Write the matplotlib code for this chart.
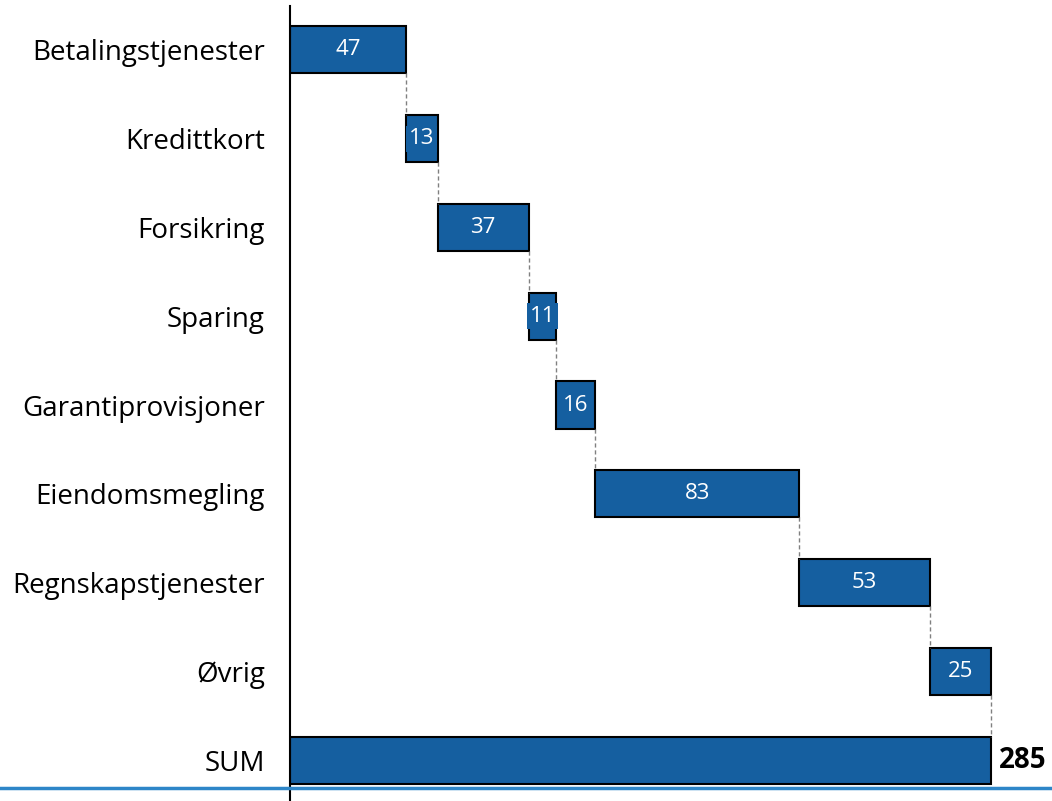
import matplotlib.pyplot as plt
from matplotlib.lines import Line2D

kategorier = ['Betalingstjenester', 'Kredittkort', 'Forsikring', 'Sparing',
              'Garantiprovisjoner', 'Eiendomsmegling', 'Regnskapstjenester',
              'Øvrig', 'SUM']
verdier = [47, 13, 37, 11, 16, 83, 53, 25]
total = sum(verdier)

plt.rcParams['font.family'] = ['Open Sans', 'DejaVu Sans']
farge = '#155fa0'

fig = plt.figure(figsize=(10.52, 8.01), dpi=100)
ax = fig.add_axes([290 / 1052, -3.4 / 801, 1 - 290 / 1052, 798.8 / 801])

start = 0
starts = []
for v in verdier:
    starts.append(start)
    start += v

h = 0.53
for i, v in enumerate(verdier):
    ax.barh(i, v, left=starts[i], height=h, color=farge, edgecolor='black', linewidth=1.5)
    ax.text(starts[i] + v / 2, i, str(v), ha='center', va='center', color='white', fontsize=16,
            bbox=dict(boxstyle='square,pad=0.12', fc=farge, ec='none'))
    # stiplet forbindelseslinje
    ax.plot([starts[i] + v, starts[i] + v], [i + h / 2, i + 1 - h / 2], color='grey',
            linestyle=(0, (3, 2)), linewidth=1)

n = len(verdier)
ax.barh(n, total, height=h, color=farge, edgecolor='black', linewidth=1.5)
ax.text(total + 3, n, str(total), ha='left', va='center', fontsize=20, fontweight='bold')

ax.set_ylim(n + 0.5, -0.5)
ax.set_xlim(0, 309.6)
ax.set_yticks(range(len(kategorier)))
ax.set_yticklabels(kategorier, fontsize=20)
ax.tick_params(axis='y', length=0, pad=18)
ax.set_xticks([])
for s in ['top', 'right', 'bottom']:
    ax.spines[s].set_visible(False)
ax.spines['left'].set_linewidth(1.5)
ax.spines['left'].set_bounds(n + 0.5, -0.5)

fig.add_artist(Line2D([0, 1], [1 - 788 / 801] * 2, color='#2e86c8', linewidth=2.5,
                      transform=fig.transFigure))

fig.savefig('out.png', dpi=100)
